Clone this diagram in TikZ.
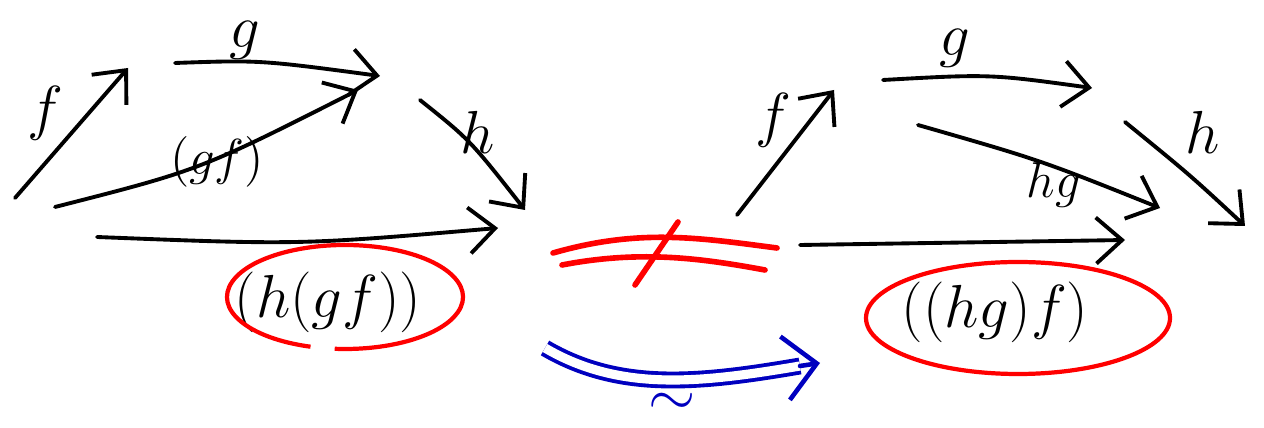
\documentclass[tikz,border=0pt]{standalone}
\usetikzlibrary{arrows.meta}
\begin{document}
\begin{tikzpicture}[x=0.01cm,y=-0.01cm,
  mor/.style={line width=1.1pt,line cap=round,-{Straight Barb[length=2.6mm,width=4.6mm]}},
  lab/.style={font=\LARGE},
  slab/.style={font=\Large},
  blob/.style={red,line width=1.2pt}]
 \useasboundingbox (0,0) rectangle (1264,428);
 % left triangle: h(gf)
 \coordinate (lA) at (15,198);  \coordinate (lB) at (128,68);
 \coordinate (lC) at (175,63);  \coordinate (lD) at (380,76);
 \coordinate (lE) at (55,207);  \coordinate (lF) at (358,90);
 \coordinate (lG) at (420,100); \coordinate (lH) at (525,210);
 \coordinate (lI) at (97,237);  \coordinate (lJ) at (498,228);
 \draw[mor] (lA) -- (lB);
 \draw[mor] (lC) .. controls (260,60) .. (lD);
 \draw[mor] (lE) .. controls (200,170) .. (lF);
 \draw[mor] (lG) .. controls (470,140) .. (lH);
 \draw[mor] (lI) .. controls (300,245) .. (lJ);
 \node[lab] (lf) at (45,113) {$f$};
 \node[lab] (lg) at (245,40) {$g$};
 \node[slab] (lgf) at (217,162) {$(gf)$};
 \node[lab] (lh) at (478,132) {$h$};
 % circled left bracketing
 \node[lab] (lhgf) at (328,302) {$(h(gf))$};
 \draw[blob] (345,297) ++(107:118 and 52) arc (107:455:118 and 52);
 % not equal
 \draw[red,line width=1.6pt,line cap=round] (553,253) .. controls (640,228) and (700,238) .. (777,248);
 \draw[red,line width=1.6pt,line cap=round] (562,265) .. controls (640,250) and (700,258) .. (765,270);
 \draw[red,line width=1.6pt,line cap=round] (635,285) -- (678,222);
 % iso arrow
 \coordinate (iA) at (545,348); \coordinate (iB) at (800,366); \coordinate (iC) at (820,363);
 \draw[blue!75!black,line width=1.1pt,double,double distance=2.6pt]
   (iA) .. controls (620,392) and (700,383) .. (iB);
 \draw[blue!75!black,line width=1.3pt,line cap=round,-{Straight Barb[length=3.2mm,width=6.4mm]}] (iB) -- (iC);
 \node[lab,blue!75!black] (iso) at (672,404) {$\sim$};
 % right triangle: (hg)f
 \coordinate (rA) at (737,215);  \coordinate (rB) at (834,90);
 \coordinate (rC) at (883,80);   \coordinate (rD) at (1092,88);
 \coordinate (rE) at (918,125);  \coordinate (rF) at (1160,208);
 \coordinate (rG) at (1125,122); \coordinate (rH) at (1245,226);
 \coordinate (rI) at (800,245);  \coordinate (rJ) at (1125,240);
 \draw[mor] (rA) -- (rB);
 \draw[mor] (rC) .. controls (990,74) .. (rD);
 \draw[mor] (rE) .. controls (1040,160) .. (rF);
 \draw[mor] (rG) .. controls (1190,175) .. (rH);
 \draw[mor] (rI) .. controls (960,243) .. (rJ);
 \node[lab] (rf) at (773,120) {$f$};
 \node[lab] (rg) at (955,48) {$g$};
 \node[slab] (rhg) at (1054,185) {$hg$};
 \node[lab] (rh) at (1203,132) {$h$};
 % circled right bracketing
 \node[lab] (rhgf) at (995,312) {$((hg)f)$};
 \draw[blob] (1018,318) ellipse (152 and 56);
\end{tikzpicture}
\end{document}
